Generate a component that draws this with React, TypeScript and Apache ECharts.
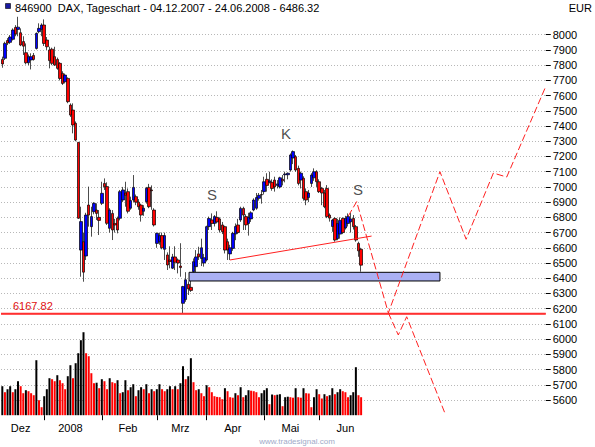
import React, { useEffect, useRef } from 'react';
import * as echarts from 'echarts';

const FONT = '"Liberation Sans", Arial, Helvetica, sans-serif';

// Trading sessions (day of month) per month
const SESSIONS_DEC_2007 = [4, 5, 6, 7, 10, 11, 12, 13, 14, 17, 18, 19, 20, 21, 27, 28];
const SESSIONS_JAN_2008 = [2, 3, 4, 7, 8, 9, 10, 11, 14, 15, 16, 17, 18, 21, 22, 23, 24, 25, 28, 29, 30, 31];
const SESSIONS_FEB_2008 = [1, 4, 5, 6, 7, 8, 11, 12, 13, 14, 15, 18, 19, 20, 21, 22, 25, 26, 27, 28, 29];
const SESSIONS_MAR_2008 = [3, 4, 5, 6, 7, 10, 11, 12, 13, 14, 17, 18, 19, 20, 25, 26, 27, 28, 31];
const SESSIONS_APR_2008 = [1, 2, 3, 4, 7, 8, 9, 10, 11, 14, 15, 16, 17, 18, 21, 22, 23, 24, 25, 28, 29, 30];
const SESSIONS_MAY_2008 = [2, 5, 6, 7, 8, 9, 12, 13, 14, 15, 16, 19, 20, 21, 22, 23, 26, 27, 28, 29, 30];
const SESSIONS_JUN_2008 = [2, 3, 4, 5, 6, 9, 10, 11, 12, 13, 16, 17, 18, 19, 20, 23, 24];
const TRADING_MONTHS: [number, number, number[]][] = [
  [2007, 12, SESSIONS_DEC_2007],
  [2008, 1, SESSIONS_JAN_2008],
  [2008, 2, SESSIONS_FEB_2008],
  [2008, 3, SESSIONS_MAR_2008],
  [2008, 4, SESSIONS_APR_2008],
  [2008, 5, SESSIONS_MAY_2008],
  [2008, 6, SESSIONS_JUN_2008],
];
const MONTH_LABELS = ['Dez', '2008', 'Feb', 'Mrz', 'Apr', 'Mai', 'Jun'];
const MONTH_SESSIONS = [16, 22, 21, 19, 22, 21, 21];
const FUTURE_SESSIONS = 70;

const OPEN = [
  7838, 7845, 7962, 7950, 7970, 8048, 8035, 8013, 7955, 7882, 7816, 7834, 7864, 7910, 8020, 8035,
  8064, 7965, 7900, 7905, 7856, 7838, 7812, 7746, 7691, 7713, 7538, 7505, 7418, 7293, 6585, 6640, 6546, 6881, 6739, 6837, 6848, 6800,
  6892, 7023, 7002, 6728, 6826, 6760, 6794, 6794, 6914, 6960, 6969, 6860, 6914, 6936, 6900, 6881, 6840, 6903, 6997, 6980, 6848,
  6629, 6640, 6680, 6590, 6553, 6520, 6466, 6540, 6520, 6480, 6235, 6260, 6360, 6340, 6443, 6476, 6560, 6530, 6500,
  6520, 6739, 6783, 6760, 6800, 6790, 6750, 6739, 6640, 6560, 6596, 6690, 6750, 6783, 6859, 6805, 6760, 6790, 6848, 6860, 6925, 6950,
  6969, 7050, 7030, 7030, 7045, 7010, 7000, 7050, 7080, 7080, 7111, 7190, 7199, 7122, 7045, 7057, 6969, 6930, 7023, 7060, 7100,
  7034, 6990, 6960, 6990, 6815, 6740, 6793, 6660, 6690, 6793, 6730, 6760, 6770, 6793, 6739, 6629, 6590,
];
const CLOSE = [
  7808, 7943, 7945, 7985, 8031, 8005, 8050, 7932, 7925, 7816, 7856, 7856, 7838, 8009, 8042, 8064,
  7943, 7921, 7830, 7812, 7801, 7779, 7713, 7680, 7735, 7560, 7472, 7407, 7308, 6794, 6772, 6440, 6815, 6815, 6805, 6892, 6826, 6780,
  6958, 7001, 6761, 6848, 6717, 6750, 6717, 6969, 6980, 6945, 6840, 6910, 6997, 6900, 6870, 6815, 6860, 6991, 6870, 6975, 6750,
  6695, 6680, 6600, 6680, 6487, 6510, 6540, 6505, 6500, 6470, 6345, 6390, 6330, 6320, 6509, 6540, 6540, 6600, 6535,
  6739, 6793, 6760, 6805, 6770, 6717, 6706, 6585, 6586, 6600, 6695, 6740, 6700, 6859, 6815, 6750, 6800, 6830, 6914, 6930, 6945, 6948,
  7034, 7010, 7040, 6990, 7000, 7020, 7060, 7040, 7085, 7090, 7210, 7232, 7111, 7023, 7090, 6925, 6914, 6960, 7078, 7100, 7034,
  6969, 6960, 6870, 6805, 6795, 6782, 6651, 6760, 6780, 6700, 6793, 6805, 6790, 6739, 6651, 6580, 6486,
];
const LOW = [
  7783, 7834, 7932, 7940, 7962, 7990, 7990, 7925, 7867, 7805, 7800, 7772, 7830, 7903, 8010, 7990,
  7926, 7900, 7779, 7800, 7795, 7770, 7700, 7670, 7680, 7550, 7460, 7352, 7300, 6790, 6410, 6377, 6520, 6739, 6673, 6820, 6783, 6684,
  6881, 6980, 6750, 6700, 6651, 6700, 6695, 6780, 6900, 6870, 6826, 6850, 6900, 6880, 6850, 6772, 6810, 6890, 6860, 6850, 6740,
  6600, 6620, 6590, 6520, 6454, 6465, 6460, 6454, 6432, 6410, 6168, 6245, 6290, 6310, 6430, 6440, 6520, 6480, 6476,
  6510, 6717, 6717, 6740, 6760, 6700, 6690, 6563, 6520, 6520, 6580, 6650, 6690, 6770, 6717, 6717, 6680, 6770, 6840, 6850, 6910, 6890,
  6950, 6969, 7023, 6975, 6969, 6990, 6990, 7010, 7030, 7050, 7100, 7150, 7100, 7010, 6990, 6910, 6880, 6900, 7000, 7040, 7000,
  6960, 6880, 6860, 6795, 6772, 6705, 6640, 6650, 6660, 6690, 6720, 6740, 6700, 6720, 6640, 6541, 6443,
];
const HIGH = [
  7856, 7954, 7978, 7998, 8042, 8063, 8118, 8042, 7990, 7943, 7870, 7878, 7880, 8015, 8075, 8075,
  8101, 7985, 7921, 7915, 7921, 7850, 7820, 7760, 7745, 7720, 7549, 7549, 7430, 7293, 6870, 6700, 6830, 7002, 6870, 6900, 6892, 6848,
  7034, 7056, 7030, 6860, 6848, 6790, 6805, 6980, 7000, 7034, 6990, 6936, 7078, 6950, 6920, 6890, 6880, 7000, 7020, 7010, 6860,
  6700, 6700, 6700, 6700, 6570, 6610, 6560, 6610, 6530, 6630, 6350, 6440, 6380, 6388, 6530, 6585, 6607, 6660, 6560,
  6745, 6805, 6826, 6815, 6840, 6800, 6770, 6745, 6660, 6620, 6705, 6760, 6790, 6870, 6870, 6820, 6830, 6840, 6925, 6960, 6960, 6980,
  7067, 7090, 7100, 7050, 7067, 7045, 7067, 7078, 7100, 7095, 7220, 7240, 7210, 7140, 7100, 7070, 6990, 6980, 7090, 7122, 7110,
  7050, 7000, 6980, 7012, 6826, 6790, 6800, 6790, 6800, 6800, 6810, 6826, 6830, 6815, 6750, 6640, 6600,
];
// Volume (relative units)
const VOLUME = [
  29, 23, 26, 29, 23, 26, 34, 29, 22, 25, 24, 22, 20, 55, 15, 8,
  19, 26, 37, 36, 34, 40, 35, 32, 26, 39, 50, 37, 52, 62, 75, 83, 62, 59, 42, 32, 32.5, 27,
  36, 34, 26, 37, 33, 32, 35, 22, 23, 35, 25, 28, 31, 19, 25, 28, 26, 31, 22, 26, 24,
  26, 31, 26, 24, 26, 29, 26, 29, 26, 32, 49, 36, 39, 57, 33, 25, 26, 22, 19,
  30, 28, 23, 19, 18.3, 18, 16, 27, 24, 18, 17.5, 22, 20, 28, 18, 20, 25, 24.5, 24, 23, 18, 22,
  25, 27, 11, 20.7, 20, 20.5, 21, 9, 18, 18.5, 18, 17.5, 27, 18, 17.5, 27, 22, 21.7, 8, 18, 26,
  21, 16.7, 21, 19, 20, 27, 21, 23, 26, 24, 23, 18, 20, 23, 48, 20, 18,
];
const VOLUME_AXIS_MAX = 411;

const PRICE_MIN = 5500;
const PRICE_MAX = 8200;
const PRICE_STEP = 100;
const PRICE_TICKS = [5600, 5700, 5800, 5900, 6000, 6100, 6200, 6300, 6400, 6500, 6600, 6700, 6800, 6900, 7000, 7100, 7200, 7300, 7400, 7500, 7600, 7700, 7800, 7900, 8000];

// Annotations, in [session index, price]
const SUPPORT_LEVEL = 6167.82;
const ZONE_SESSIONS = [71.3, 167.1];
const ZONE_PRICES = [6382, 6439];
const NECKLINE = [[86.9, 6520], [141.0, 6677]];
const PROJECTION_MAIN = [[132.1, 6809], [135.3, 6903], [147.4, 6172], [167.1, 7100], [177.1, 6656], [187.5, 7091], [192.6, 7065], [207.2, 7648]];
const PROJECTION_ALT = [[147.4, 6172], [151.2, 6027], [154.4, 6147], [169.0, 5513]];
const PATTERN_LABELS = ['S', 'K', 'S'];
const PATTERN_POS = [[80.1, 6947], [108.3, 7354], [135.8, 6986]];

const TITLE = '846900\u00a0\u00a0DAX, Tageschart - 04.12.2007 - 24.06.2008 - 6486.32';

export default function App() {
  const ref = useRef<HTMLDivElement>(null);

  useEffect(() => {
    const el = ref.current;
    if (!el) return;
    const chart = echarts.init(el, undefined, { renderer: 'svg' });

    const categories: string[] = [];
    TRADING_MONTHS.forEach(([y, m, days]) => {
      days.forEach((d) => categories.push(`${String(d).padStart(2, '0')}.${String(m).padStart(2, '0')}.${y}`));
    });
    for (let k = 1; k <= FUTURE_SESSIONS; k++) categories.push(`+${k}`);
    const slots = categories.length;

    const tickAt = new Set<number>();
    const labelText: Record<number, string> = {};
    let start = 0;
    TRADING_MONTHS.forEach(([, , days], k) => {
      if (k > 0) tickAt.add(start);
      labelText[start + Math.floor((MONTH_SESSIONS[k] - 1) / 2)] = MONTH_LABELS[k];
      start += days.length;
    });

    const candles = OPEN.map((o, i) => [o, CLOSE[i], LOW[i], HIGH[i]]);
    const volume = VOLUME.map((v, i) => ({
      value: v,
      itemStyle: { color: i === 0 || v > VOLUME[i - 1] ? '#000000' : '#ff0000' },
    }));
    const toAxis = (pts: number[][]) => pts.map(([s, p]) => [s + 0.5, p]);

    const hiddenAxis = {
      show: false,
      axisLine: { show: false, onZero: false },
      axisTick: { show: false },
      axisLabel: { show: false },
      splitLine: { show: false },
    };

    const option: any = {
      animation: false,
      backgroundColor: '#ffffff',
      textStyle: { fontFamily: FONT },
      grid: { left: 1, top: 4.3, width: 544.75, height: 410.9, outerBoundsMode: 'none', containLabel: false },
      xAxis: [
        {
          type: 'category',
          data: categories,
          boundaryGap: true,
          axisLine: { show: false, onZero: false },
          axisTick: {
            show: true,
            alignWithLabel: true,
            interval: (i: number) => tickAt.has(i),
            length: 5,
            lineStyle: { color: '#000', width: 1 },
          },
          axisLabel: {
            interval: (i: number) => labelText[i] !== undefined,
            formatter: (_v: string, i: number) => labelText[i] ?? '',
            color: '#000',
            fontSize: 11,
            fontFamily: FONT,
            margin: 7,
          },
          splitLine: { show: false },
        },
        { type: 'value', min: 0, max: slots, ...hiddenAxis },
      ],
      yAxis: [
        {
          type: 'value',
          position: 'right',
          min: PRICE_MIN,
          max: PRICE_MAX,
          interval: PRICE_STEP,
          axisLine: { show: false, onZero: false },
          axisTick: { show: true, customValues: PRICE_TICKS, length: 5, lineStyle: { color: '#000' } },
          axisLabel: {
            customValues: PRICE_TICKS,
            formatter: (v: number) => String(v),
            color: '#000',
            fontSize: 11,
            fontFamily: FONT,
            margin: 7,
          },
          splitLine: { show: true, lineStyle: { color: '#b8b8b8', type: [1, 2], width: 1 } },
        },
        { type: 'value', min: 0, max: VOLUME_AXIS_MAX, position: 'right', ...hiddenAxis },
      ],
      series: [
        {
          type: 'bar',
          xAxisIndex: 0,
          yAxisIndex: 1,
          data: volume,
          barWidth: 2,
          silent: true,
        },
        {
          type: 'candlestick',
          xAxisIndex: 0,
          yAxisIndex: 0,
          data: candles,
          barWidth: 3,
          silent: true,
          itemStyle: {
            color: '#0000ff',
            color0: '#ff0000',
            borderColor: '#000000',
            borderColor0: '#000000',
            borderWidth: 0.7,
          },
        },
        {
          type: 'line',
          xAxisIndex: 1,
          yAxisIndex: 0,
          data: [[0, SUPPORT_LEVEL], [slots, SUPPORT_LEVEL]],
          symbol: 'none',
          silent: true,
          lineStyle: { color: '#ff3030', width: 1.5 },
          markLine: {
            silent: true,
            symbol: 'none',
            data: [{ yAxis: SUPPORT_LEVEL }],
            lineStyle: { color: '#ff3030', width: 1.5, type: 'solid' },
            label: {
              show: true,
              position: 'insideStartTop',
              formatter: SUPPORT_LEVEL.toFixed(2),
              color: '#e01010',
              fontSize: 11,
              fontFamily: FONT,
              distance: [12, 2],
            },
          },
        },
        {
          type: 'custom',
          xAxisIndex: 1,
          yAxisIndex: 0,
          silent: true,
          data: [[ZONE_SESSIONS[0] + 0.5, ZONE_SESSIONS[1] + 0.5, ZONE_PRICES[0], ZONE_PRICES[1]]],
          renderItem: (_p: any, api: any) => {
            const a = api.coord([api.value(0), api.value(3)]);
            const b = api.coord([api.value(1), api.value(2)]);
            return {
              type: 'rect',
              shape: { x: a[0], y: a[1], width: b[0] - a[0], height: b[1] - a[1] },
              style: { fill: '#aab0f4', stroke: '#000000', lineWidth: 1 },
            };
          },
          z: 3,
        },
        {
          type: 'line',
          xAxisIndex: 1,
          yAxisIndex: 0,
          data: toAxis(NECKLINE),
          symbol: 'none',
          silent: true,
          lineStyle: { color: '#ff2020', width: 1 },
          z: 4,
        },
        {
          type: 'line',
          xAxisIndex: 1,
          yAxisIndex: 0,
          data: toAxis(PROJECTION_MAIN),
          symbol: 'none',
          silent: true,
          lineStyle: { color: '#ff2020', width: 1, type: [7, 3] },
          z: 4,
        },
        {
          type: 'line',
          xAxisIndex: 1,
          yAxisIndex: 0,
          data: toAxis(PROJECTION_ALT),
          symbol: 'none',
          silent: true,
          lineStyle: { color: '#ff2020', width: 1, type: [7, 3] },
          z: 4,
        },
        {
          type: 'scatter',
          xAxisIndex: 1,
          yAxisIndex: 0,
          symbolSize: 0,
          silent: true,
          data: PATTERN_POS.map(([s, p], i) => ({ value: [s + 0.5, p], name: PATTERN_LABELS[i] })),
          label: {
            show: true,
            position: 'inside',
            formatter: (p: any) => p.name,
            color: '#202020',
            fontSize: 15,
            fontFamily: FONT,
          },
          z: 5,
        },
      ],
      graphic: [
        {
          type: 'text',
          x: 15,
          y: 2,
          z: 100,
          style: { text: TITLE, font: `11px ${FONT}`, fill: '#000', verticalAlign: 'top', backgroundColor: '#fff' },
        },
        {
          type: 'rect',
          z: 101,
          shape: { x: 5.5, y: 3.5, width: 5, height: 5 },
          style: { fill: '#1a1aa0', stroke: '#000', lineWidth: 0.6 },
        },
        {
          type: 'text',
          x: 592,
          y: 2,
          z: 100,
          style: { text: 'EUR', font: `11px ${FONT}`, fill: '#000', align: 'right', verticalAlign: 'top' },
        },
        {
          type: 'text',
          x: 297,
          y: 437,
          z: 100,
          style: { text: 'www.tradesignal.com', font: `8px ${FONT}`, fill: '#a0aac8', align: 'center', verticalAlign: 'top' },
        },
      ],
    };

    chart.setOption(option);
    return () => chart.dispose();
  }, []);

  return (
    <div
      ref={ref}
      style={{ position: 'absolute', left: 0, top: 0, width: 595, height: 447, background: '#fff' }}
    />
  );
}
